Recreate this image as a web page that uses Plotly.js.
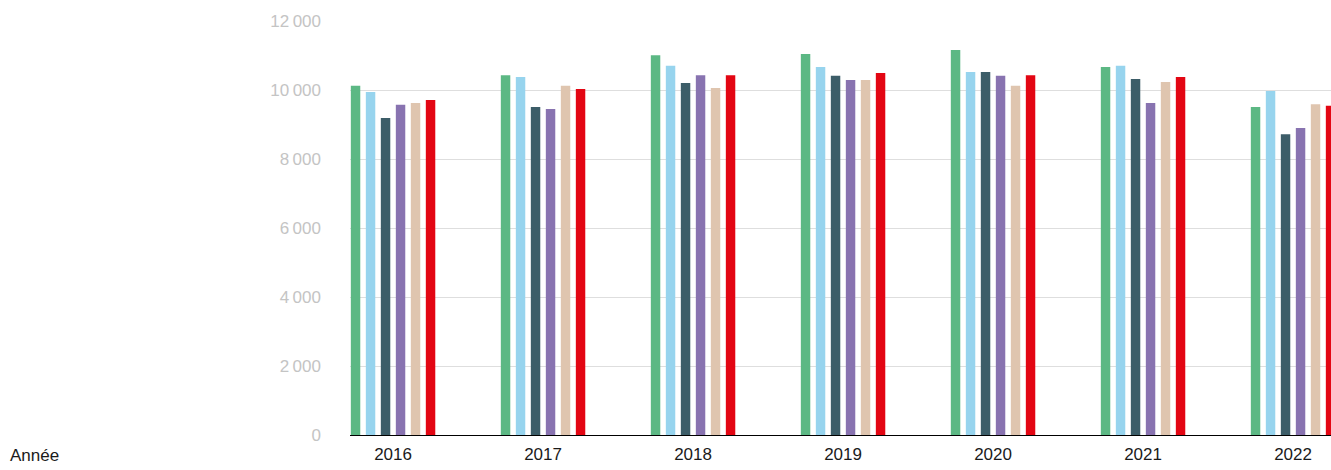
<!DOCTYPE html>
<html>
<head>
<meta charset="utf-8">
<script src="https://cdn.plot.ly/plotly-3.0.1.min.js"></script>
<style>
html,body{margin:0;padding:0;background:#fff;}
#chart{width:1331px;height:470px;}
</style>
</head>
<body>
<div id="chart"></div>
<script>
const years = ["2016", "2017", "2018", "2019", "2020", "2021", "2022"];
const serie1 = [10120, 10430, 11010, 11040, 11160, 10670, 9510];
const serie2 = [9940, 10380, 10700, 10670, 10520, 10700, 9970];
const serie3 = [9190, 9510, 10200, 10410, 10520, 10320, 8720];
const serie4 = [9570, 9450, 10430, 10290, 10410, 9620, 8900];
const serie5 = [9620, 10120, 10060, 10290, 10120, 10230, 9590];
const serie6 = [9710, 10030, 10430, 10490, 10430, 10380, 9540];
const seriesNames = ["Série 1", "Série 2", "Série 3", "Série 4", "Série 5", "Série 6"];
const seriesColors = ["#5cb884", "#97d4ee", "#3c5d68", "#8873b0", "#dfc5af", "#e30613"];
const yTicks = [0, 2000, 4000, 6000, 8000, 10000, 12000];
const axisLabel = "Année";

const allSeries = [serie1, serie2, serie3, serie4, serie5, serie6];
const traces = allSeries.map((vals, i) => ({
  type: 'bar',
  x: years,
  y: vals,
  name: seriesNames[i],
  marker: {color: seriesColors[i], line: {width: 0}},
  hoverinfo: 'none'
}));

const font = "'Liberation Sans', Arial, Helvetica, sans-serif";
const layout = {
  width: 1331,
  height: 470,
  margin: {l: 350, r: 0, t: 21, b: 35, pad: 0},
  paper_bgcolor: '#ffffff',
  plot_bgcolor: '#ffffff',
  showlegend: false,
  barmode: 'group',
  bargap: 0.4,
  bargroupgap: 0.37,
  separators: ",\u2009",
  font: {family: font, size: 17, color: '#222222'},
  xaxis: {
    type: 'category',
    range: [-0.287, 6.253],
    showline: true,
    linecolor: '#000000',
    linewidth: 1,
    showgrid: false,
    ticks: '',
    tickfont: {family: font, size: 17, color: '#1a1a1a'},
    ticklabelstandoff: 4,
    fixedrange: true
  },
  yaxis: {
    range: [0, 12000],
    tickvals: yTicks,
    exponentformat: 'none',
    separatethousands: true,
    showgrid: true,
    gridcolor: '#dedede',
    gridwidth: 1,
    zeroline: false,
    showline: false,
    ticks: '',
    tickfont: {family: font, size: 17, color: '#c4c4c4'},
    ticklabelstandoff: 28,
    fixedrange: true
  },
  annotations: [{
    text: axisLabel,
    xref: 'paper', yref: 'paper',
    x: -0.3486, y: 0,
    xanchor: 'left', yanchor: 'top',
    yshift: -9,
    showarrow: false,
    font: {family: font, size: 17, color: '#1a1a1a'}
  }]
};

Plotly.newPlot('chart', traces, layout, {displayModeBar: false, staticPlot: true});
</script>
</body>
</html>
